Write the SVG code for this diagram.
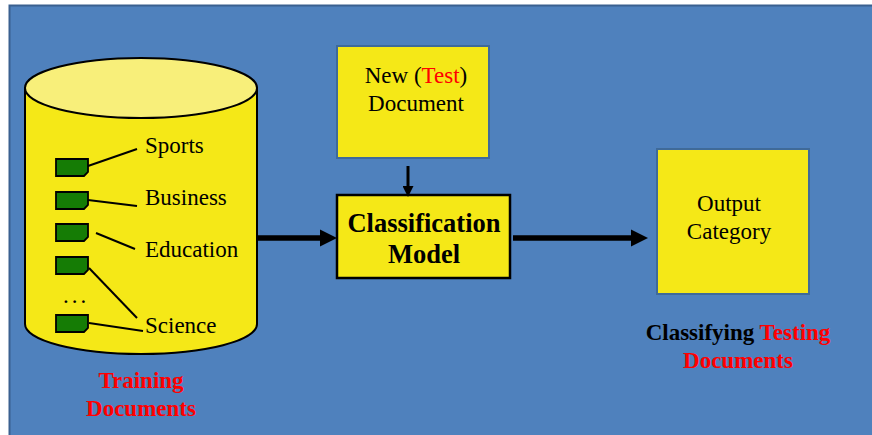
<svg xmlns="http://www.w3.org/2000/svg" width="872" height="435" viewBox="0 0 872 435">
<style>
.t{font-family:"Liberation Serif","Times New Roman",serif;fill:#000}
.r{font-size:23px}
.b{font-size:23px;font-weight:bold}
.red{fill:#ff0000}
.box{fill:#f5e817;stroke:#3f6a99;stroke-width:2}
.doc{fill:#157c05;stroke:#000;stroke-width:1.8}
.ln{stroke:#000;stroke-width:2;fill:none}
.arr{stroke:#000;fill:none}
</style>
<defs>
<marker id="ah" viewBox="0 0 10 10" refX="0" refY="5" markerWidth="17" markerHeight="18" markerUnits="userSpaceOnUse" orient="auto">
<path d="M0,0 L10,5 L0,10 z" fill="#000"/>
</marker>
<marker id="ahs" viewBox="0 0 10 10" refX="0" refY="5" markerWidth="11" markerHeight="11" markerUnits="userSpaceOnUse" orient="auto">
<path d="M0,0 L10,5 L0,10 z" fill="#000"/>
</marker>
</defs>
<rect x="0" y="0" width="872" height="435" fill="#ffffff"/>
<rect x="9.5" y="5.5" width="870" height="440" fill="#4f81bd" stroke="#3a6090" stroke-width="2"/>

<g id="training-db">
<path d="M25,88 L25,324 A116,30 0 0 0 257,324 L257,88 Z" fill="#f5e817" stroke="#000" stroke-width="2"/>
<ellipse cx="141" cy="88" rx="116" ry="30" fill="#f8ef7a" stroke="#000" stroke-width="2"/>
<path class="doc" d="M56,159 h32 v13 l-4,4 h-28 z"/>
<path class="doc" d="M56,192 h32 v13 l-4,4 h-28 z"/>
<path class="doc" d="M56,224 h32 v13 l-4,4 h-28 z"/>
<path class="doc" d="M56,257 h32 v13 l-4,4 h-28 z"/>
<path class="doc" d="M56,315 h32 v13 l-4,4 h-28 z"/>
<path class="ln" d="M88,166 L137,149"/>
<path class="ln" d="M88,200 L137,206"/>
<path class="ln" d="M96,233 L135,249"/>
<path class="ln" d="M89,268 L137,318"/>
<path class="ln" d="M89,323 L143,331"/>
<text class="t r" x="145" y="153">Sports</text>
<text class="t r" x="145" y="205">Business</text>
<text class="t r" x="145" y="257">Education</text>
<text class="t r" x="145" y="333">Science</text>
<text class="t r" x="63" y="303" letter-spacing="3">...</text>
<text class="t b red" x="141" y="388" text-anchor="middle">Training</text>
<text class="t b red" x="141" y="416" text-anchor="middle">Documents</text>
</g>

<g id="test-doc">
<rect class="box" x="337" y="46" width="152" height="112"/>
<text class="t r" x="416" y="83" text-anchor="middle">New (<tspan class="red">Test</tspan>)</text>
<text class="t r" x="416" y="111" text-anchor="middle">Document</text>
</g>

<g id="model">
<rect x="337" y="195" width="173" height="83" fill="#f5e817" stroke="#000" stroke-width="2.5"/>
<text class="t" x="424" y="232" text-anchor="middle" font-size="26.5" font-weight="bold">Classification</text>
<text class="t" x="424" y="263" text-anchor="middle" font-size="26.5" font-weight="bold">Model</text>
</g>

<g id="output">
<rect class="box" x="657" y="149" width="152" height="145"/>
<text class="t r" x="729" y="211" text-anchor="middle">Output</text>
<text class="t r" x="729" y="239" text-anchor="middle">Category</text>
</g>

<g id="caption">
<text class="t b" x="738" y="340" text-anchor="middle">Classifying <tspan class="red">Testing</tspan></text>
<text class="t b red" x="738" y="368" text-anchor="middle">Documents</text>
</g>

<g id="connectors">
<path class="arr" d="M257,238 L320,238" stroke-width="5.5" marker-end="url(#ah)"/>
<path class="arr" d="M513,238 L631,238" stroke-width="5.5" marker-end="url(#ah)"/>
<path class="arr" d="M408,166 L408,186" stroke-width="3" marker-end="url(#ahs)"/>
</g>
</svg>
